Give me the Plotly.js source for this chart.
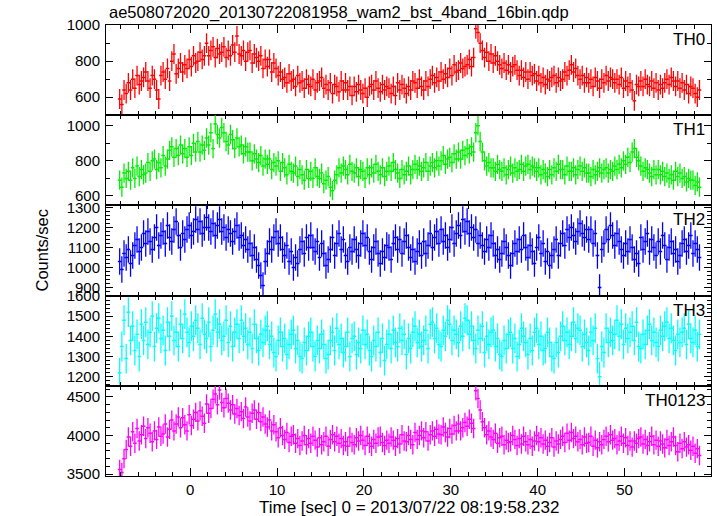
<!DOCTYPE html>
<html><head><meta charset="utf-8">
<script src="https://cdn.plot.ly/plotly-3.0.1.min.js"></script>
<style>
html,body{margin:0;padding:0;background:#fff}
</style>
</head><body><div id="chart" style="width:717px;height:516px"></div>
<script>
// time bins (0.25 s) starting at -8.125 s
const binStart = -8.125;
const binWidth = 0.25;

const th0 = [
590,560,640,620, 680,640,700,650, 720,670,690,710, 740,690,650,720, 700,640,590,720, 740,700,760,690, 800,840,730,760, 790,740,780,760,
810,770,830,790, 800,850,810,830, 900,830,860,880, 820,870,840,850, 880,820,860,830, 890,850,940,840, 830,860,800,850, 860,790,840,820,
800,830,760,810, 770,810,740,790, 760,720,740,700, 710,680,730,690, 700,660,720,680, 690,650,700,670, 660,700,640,680, 690,710,650,670,
640,680,620,670, 660,630,690,640, 680,640,660,610, 660,630,670,640, 620,650,600,660, 670,640,690,650, 630,670,640,660, 650,620,660,610,
680,640,670,650, 620,660,640,690, 680,650,700,660, 640,690,660,700, 720,680,710,690, 740,700,730,710, 760,720,780,740, 750,790,760,770,
780,810,770,820, 980,960,900,860, 820,850,800,840, 790,830,800,780, 760,790,750,780, 740,770,780,750, 720,750,710,740, 700,740,720,730,
690,720,680,710, 670,700,690,710, 720,680,710,690, 700,740,720,750, 780,740,760,720, 700,720,680,710, 680,700,660,710, 690,650,700,680,
720,690,710,700, 680,700,670,710, 650,690,660,680, 640,580,670,660, 690,660,700,670, 660,690,650,680, 640,670,650,680, 700,670,710,690,
660,690,650,680, 640,670,620,660, 650,620,600,640];

const th1 = [
690,650,730,700, 740,690,760,700, 770,710,750,720, 730,790,740,800, 810,750,790,760, 830,770,810,860, 880,820,870,830, 890,840,870,820,
880,830,900,850, 910,850,890,860, 930,890,960,870, 1010,950,930,990, 960,910,890,950, 920,870,930,880, 890,840,880,850, 850,800,840,810,
790,830,770,810, 780,810,750,790, 770,800,740,790, 760,720,780,740, 730,770,710,750, 720,690,750,700, 740,700,760,710, 700,730,670,690,
710,650,630,690, 720,760,730,770, 750,720,780,740, 730,760,710,750, 740,700,760,720, 760,730,780,740, 720,760,710,740, 770,740,790,750,
730,700,750,720, 740,770,720,750, 780,750,770,740, 760,790,740,770, 790,760,800,770, 800,830,780,810, 820,790,840,810, 850,810,860,830,
870,840,880,850, 960,1000,910,850, 800,770,790,760, 760,740,780,750, 740,760,720,750, 770,730,760,740, 750,780,740,770, 780,750,770,760,
740,760,720,750, 730,710,750,720, 760,740,780,750, 750,720,770,740, 740,760,720,750, 770,740,760,730, 730,710,750,720, 740,760,730,750,
760,730,750,740, 770,750,780,760, 800,780,820,790, 850,870,820,800, 770,740,760,750, 730,710,750,720, 750,720,740,710, 730,700,720,690,
740,710,730,700, 710,680,700,690, 690,660,680,650];

const th2 = [
1030,990,1070,1050, 1090,1020,1060,1110, 1140,1080,1100,1170, 1120,1180,1130,1090, 1150,1200,1110,1160, 1180,1120,1210,1150, 1130,1190,1230,1160, 1100,1170,1140,1190,
1210,1160,1180,1240, 1190,1230,1170,1200, 1250,1200,1180,1220, 1160,1210,1240,1180, 1200,1150,1190,1170, 1130,1180,1210,1150, 1160,1110,1140,1090, 1120,1060,1100,1040,
1010,960,910,1030, 1070,1130,1090,1150, 1180,1120,1150,1090, 1060,1110,1030,1080, 1000,1050,1020,1090, 1130,1070,1150,1100, 1160,1100,1080,1130, 1050,1120,1070,1010,
1040,1090,1150,1060, 1120,1170,1090,1140, 1060,1030,1100,1080, 1140,1090,1060,1120, 1170,1110,1150,1080, 1040,1100,1130,1070, 1020,1080,1050,1110, 1100,1040,1120,1150,
1090,1140,1070,1130, 1160,1100,1050,1090, 1030,1080,1120,1060, 1130,1070,1110,1170, 1100,1150,1180,1120, 1190,1130,1160,1100, 1140,1200,1120,1170, 1210,1160,1240,1180,
1230,1170,1200,1150, 1190,1120,1160,1110, 1080,1140,1100,1160, 1120,1060,1090,1040, 1070,1130,1100,1060, 1010,1070,1120,1080, 1140,1090,1160,1100, 1050,1110,1080,1020,
1100,1150,1070,1120, 1030,1080,1010,1060, 1090,1140,1060,1120, 1170,1110,1190,1150, 1200,1160,1130,1180, 1220,1170,1150,1190, 1140,1190,1120,1170, 1060,900,1090,1120,
1190,1140,1210,1160, 1110,1170,1130,1090, 1060,1120,1080,1140, 1100,1040,1070,1020, 1150,1090,1130,1170, 1080,1140,1100,1060, 1130,1080,1160,1110, 1040,1100,1130,1070,
1090,1030,1060,1120, 1140,1080,1110,1160, 1070,1120,1090,1050];

const th3 = [
1220,1350,1480,1290, 1520,1380,1450,1330, 1410,1300,1460,1380, 1470,1360,1420,1500, 1350,1440,1490,1390, 1430,1330,1470,1400, 1500,1380,1420,1350, 1460,1390,1510,1420,
1370,1450,1400,1480, 1440,1360,1490,1410, 1390,1470,1350,1430, 1510,1420,1460,1380, 1400,1480,1370,1450, 1350,1420,1460,1390, 1480,1400,1440,1360, 1420,1340,1460,1390,
1330,1410,1370,1430, 1450,1360,1400,1320, 1300,1380,1420,1350, 1390,1310,1360,1410, 1430,1340,1380,1300, 1290,1370,1330,1400, 1420,1350,1300,1380, 1340,1410,1360,1290,
1310,1380,1420,1330, 1440,1360,1390,1320, 1350,1420,1300,1390, 1400,1310,1370,1340, 1430,1360,1410,1330, 1300,1380,1350,1420, 1320,1390,1280,1360, 1410,1340,1430,1370,
1350,1440,1380,1410, 1310,1390,1340,1420, 1450,1370,1410,1350, 1380,1430,1340,1460, 1470,1390,1440,1360, 1350,1430,1400,1480, 1460,1380,1430,1410, 1370,1450,1400,1490,
1480,1410,1450,1380, 1340,1430,1390,1450, 1320,1400,1360,1420, 1430,1350,1390,1310, 1300,1380,1340,1410, 1420,1340,1390,1300, 1360,1440,1400,1370, 1310,1390,1330,1420,
1440,1360,1400,1330, 1340,1420,1370,1300, 1290,1370,1320,1400, 1450,1380,1420,1360, 1400,1470,1390,1440, 1430,1350,1410,1370, 1330,1420,1380,1440, 1290,1200,1350,1320,
1440,1370,1420,1380, 1410,1480,1400,1460, 1360,1440,1390,1420, 1450,1380,1470,1350, 1340,1410,1360,1430, 1460,1380,1420,1370, 1350,1430,1400,1450, 1470,1390,1440,1380,
1330,1410,1370,1420, 1440,1360,1460,1390, 1370,1430,1350,1410];

const th0123 = [
3560,3520,3700,3820, 3980,3860,4050,3900, 4090,3930,4010,4120, 3960,4100,4030,3920, 4060,3950,4110,3990, 4020,4150,3980,4080, 4200,4060,4150,4240, 4100,4230,4140,4060,
4270,4130,4210,4300, 4190,4320,4250,4160, 4410,4290,4350,4470, 4540,4400,4590,4430, 4360,4480,4420,4330, 4400,4280,4350,4260, 4310,4220,4370,4240, 4190,4290,4330,4210,
4300,4180,4240,4150, 4110,4200,4060,4140, 4050,3970,4100,4000, 3950,4040,3910,3990, 4010,3900,3960,3870, 3930,4000,3880,3960, 3900,3990,3940,3850, 3970,3880,3920,3990,
3860,3950,4010,3920, 3990,3900,3960,3870, 3920,3860,3980,3910, 3880,3970,3930,4000, 3940,3870,3990,3900, 3860,3950,3900,3980, 3990,3910,3870,3940, 3900,3980,3940,3860,
3960,3890,4010,3930, 3920,4000,3950,3880, 4040,3950,4000,4060, 3970,4050,3930,4010, 4060,3990,4080,4020, 4010,4110,4040,3980, 4090,4020,4130,4060, 4150,4060,4100,4170,
4120,4210,4160,4090, 4580,4480,4330,4180, 4100,4010,4060,3980, 3950,4030,3900,3970, 3990,3880,3940,3910, 3920,4000,3950,3870, 3960,3890,3990,3920, 3880,3950,3860,3930,
4000,3920,3970,3890, 3940,3860,3910,3970, 3850,3930,3890,3950, 3990,3910,4030,3940, 4040,3960,3990,3920, 3950,3880,3980,3900, 3910,3990,3860,3940, 3840,3920,3880,3950,
3990,3920,4010,3940, 3960,3880,3930,3990, 3900,3970,3870,3930, 3850,3930,3900,3960, 3980,3890,3950,3870, 3920,3990,3880,3940, 3860,3930,3890,3840, 3950,3870,3920,3980,
3870,3790,3900,3830, 3920,3850,3880,3810, 3860,3770,3830,3740];

const bandNames = ['TH0', 'TH1', 'TH2', 'TH3', 'TH0123'];
const bandSeries = [th0, th1, th2, th3, th0123];
const bandErrors = [55, 55, 66, 74, 126];

// styles
const colors = ['#ff0000', '#00ee00', '#0000ff', '#00ffff', '#ff00ff'];
const yRanges = [[500, 1001], [546, 1060], [860, 1310], [1155, 1602], [3475, 4645]];
const yMajor = [200, 200, 100, 100, 500];
const yMinor = [100, 100, 20, 20, 100];
const FONT = 'Liberation Sans, Arial, sans-serif';

const n = bandSeries.length;
const traces = [];
const layout = {
  width: 717, height: 516,
  margin: {l: 106, r: 6, t: 25, b: 40},
  paper_bgcolor: '#fff', plot_bgcolor: '#fff',
  showlegend: false,
  font: {family: FONT, size: 14, color: '#000'},
  annotations: []
};

for (let k = 0; k < n; k++) {
  const vals = bandSeries[k];
  const times = vals.map((_, i) => binStart + binWidth * i);
  const sfx = k === 0 ? '' : String(k + 1);
  traces.push({
    type: 'scatter', mode: 'markers',
    x: times, y: vals,
    xaxis: 'x' + sfx, yaxis: 'y' + sfx,
    marker: {symbol: 'line-ew', size: 2.6, color: colors[k], line: {width: 1.5, color: colors[k]}},
    error_y: {type: 'constant', value: bandErrors[k], width: 0, thickness: 1.3, color: colors[k]},
    hoverinfo: 'x+y'
  });
  const top = 1 - k / n, bot = 1 - (k + 1) / n;
  layout['yaxis' + sfx] = {
    domain: [bot, top], anchor: 'x' + sfx,
    range: yRanges[k], dtick: yMajor[k], tick0: 0,
    showgrid: false, zeroline: false,
    showline: true, linecolor: '#000', linewidth: 1, mirror: 'ticks',
    ticks: 'inside', ticklen: 7, tickcolor: '#000',
    minor: {dtick: yMinor[k], ticks: 'inside', ticklen: 4, tickcolor: '#000', showgrid: false},
    tickfont: {family: FONT, size: 15, color: '#000'},
    ticklabelstandoff: 2
  };
  layout['xaxis' + sfx] = {
    anchor: 'y' + sfx, range: [-9.7, 59.95], dtick: 10, tick0: 0,
    matches: k === 0 ? undefined : 'x',
    showgrid: false, zeroline: false,
    showline: true, linecolor: '#000', linewidth: 1, mirror: 'ticks',
    ticks: 'inside', ticklen: 8, tickcolor: '#000',
    minor: {dtick: 2, ticks: 'inside', ticklen: 4, tickcolor: '#000', showgrid: false},
    showticklabels: k === n - 1,
    tickfont: {family: FONT, size: 15, color: '#000'}
  };
  layout.annotations.push({
    text: bandNames[k], xref: 'paper', yref: 'paper', x: 1, y: top,
    xanchor: 'right', yanchor: 'top', xshift: -4, yshift: -3,
    showarrow: false, font: {family: FONT, size: 17, color: '#000'}
  });
}

layout.annotations.push({
  text: 'ae508072020_20130722081958_wam2_bst_4band_16bin.qdp',
  xref: 'paper', yref: 'paper', x: 0, y: 1, xanchor: 'left', yanchor: 'bottom',
  xshift: 1, yshift: 1, showarrow: false, font: {family: FONT, size: 16.5, color: '#000'}
});
layout.annotations.push({
  text: 'Counts/sec', xref: 'paper', yref: 'paper', x: 0, y: 0.5,
  xanchor: 'center', yanchor: 'middle', xshift: -65, textangle: -90,
  showarrow: false, font: {family: FONT, size: 16.5, color: '#000'}
});
layout.annotations.push({
  text: 'Time [sec] 0 = 2013/07/22 08:19:58.232',
  xref: 'paper', yref: 'paper', x: 0.5, y: 0, xanchor: 'center', yanchor: 'top',
  yshift: -20, showarrow: false, font: {family: FONT, size: 17, color: '#000'}
});

Plotly.newPlot('chart', traces, layout, {staticPlot: true, displayModeBar: false});
</script>
</body></html>
